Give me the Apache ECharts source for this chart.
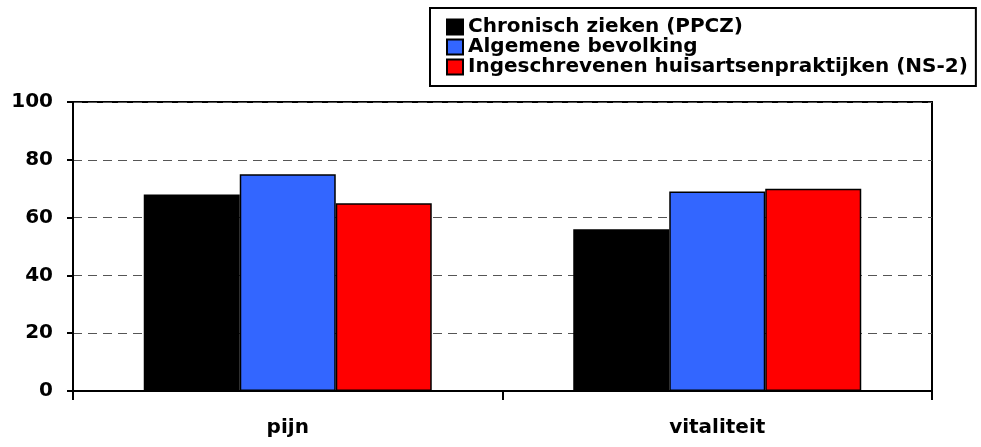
<!DOCTYPE html>
<html>
<head>
<meta charset="utf-8">
<script src="https://cdn.jsdelivr.net/npm/echarts@6/dist/echarts.min.js"></script>
<style>
  html, body { margin: 0; padding: 0; background: #fff; }
  #box { width: 981px; height: 447px; }
</style>
</head>
<body>
<div id="box"></div>
<script>
// data
var categories = ['pijn', 'vitaliteit'];
var seriesNames = ['Chronisch zieken (PPCZ)', 'Algemene bevolking', 'Ingeschrevenen huisartsenpraktijken (NS-2)'];
var chronisch = [68, 56];
var algemeen = [75, 69];
var ingeschreven = [65, 70];
var colors = ['#000000', '#3366ff', '#ff0000'];
var yTicks = [0, 20, 40, 60, 80, 100];

window.onload = function () {
    var charts = echarts.init(document.getElementById('box'));
    var font = 'DejaVu Sans';

    function bar(name, values, color) {
        return {
            name: name,
            type: 'bar',
            data: values,
            barWidth: 96,
            barGap: '0%',
            itemStyle: { color: color, borderColor: '#000', borderWidth: 1.5 }
        };
    }

    var option = {
        animation: false,
        textStyle: { fontFamily: font },
        legend: {
            orient: 'vertical',
            left: 430,
            top: 8,
            padding: [9, 8, 9, 16],
            itemGap: 0,
            itemWidth: 16,
            itemHeight: 15,
            icon: 'rect',
            borderColor: '#000',
            borderWidth: 2,
            textStyle: { fontFamily: font, fontWeight: 'bold', fontSize: 20, color: '#000', lineHeight: 20 },
            data: seriesNames
        },
        grid: {
            left: 73, right: 49, top: 102, bottom: 56,
            show: true, borderColor: '#000', borderWidth: 2, backgroundColor: 'transparent'
        },
        xAxis: {
            type: 'category',
            data: categories,
            axisLine: { lineStyle: { color: '#000', width: 2 } },
            axisTick: { show: true, length: 9, lineStyle: { color: '#000', width: 2 } },
            axisLabel: { margin: 27, fontFamily: font, fontWeight: 'bold', fontSize: 20, color: '#000' }
        },
        yAxis: {
            type: 'value',
            min: yTicks[0],
            max: yTicks[yTicks.length - 1],
            interval: yTicks[1] - yTicks[0],
            axisLine: { show: true, lineStyle: { color: '#000', width: 2 } },
            axisTick: { show: true, length: 6, lineStyle: { color: '#000', width: 2 } },
            axisLabel: { margin: 20, fontFamily: font, fontWeight: 'bold', fontSize: 20, color: '#000' },
            splitLine: { lineStyle: { color: '#555', type: [9, 6], width: 1 } }
        },
        series: [
            bar(seriesNames[0], chronisch, colors[0]),
            bar(seriesNames[1], algemeen, colors[1]),
            bar(seriesNames[2], ingeschreven, colors[2])
        ]
    };

    charts.setOption(option);
};
</script>
</body>
</html>
